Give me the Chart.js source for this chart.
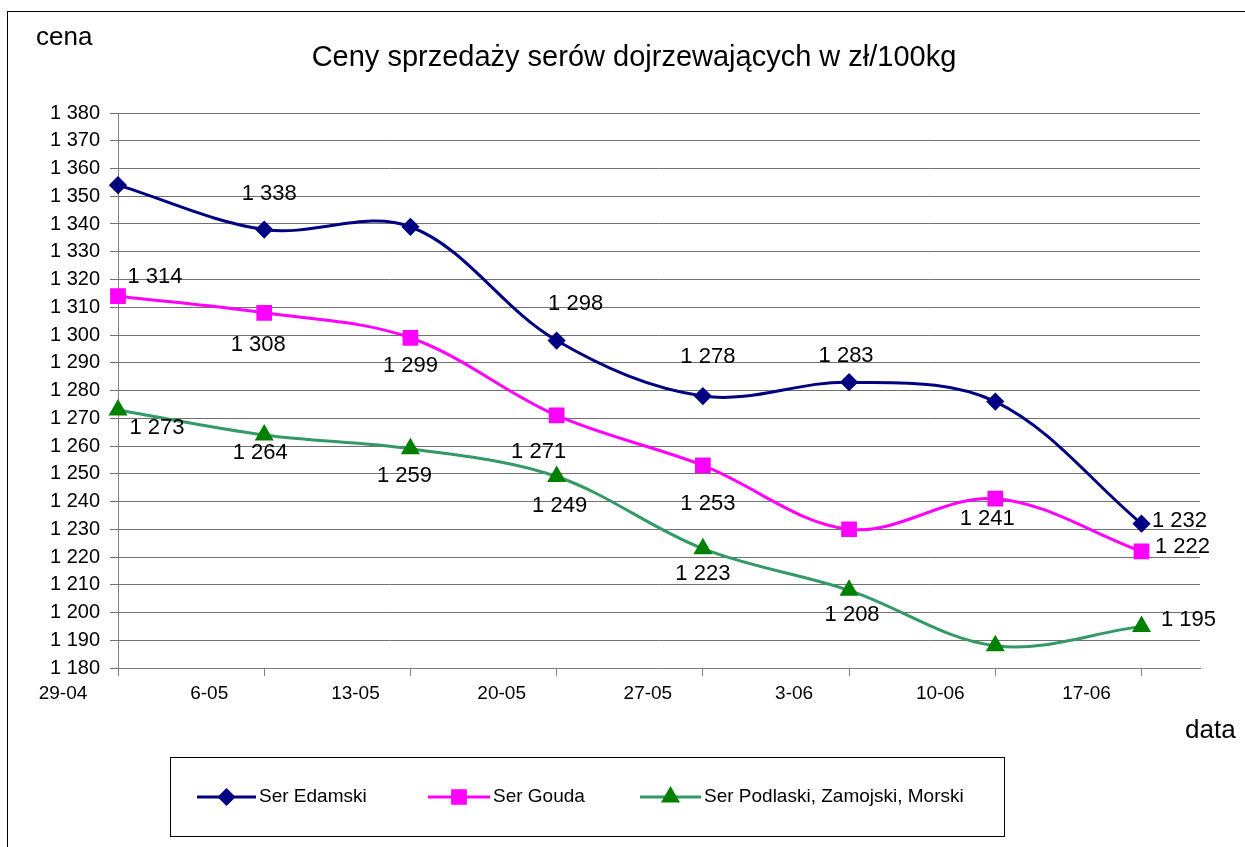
<!DOCTYPE html>
<html>
<head>
<meta charset="utf-8">
<script src="https://cdn.jsdelivr.net/npm/chart.js@4/dist/chart.umd.min.js"></script>
<style>
  html, body { margin: 0; padding: 0; background: #fff; overflow: hidden; }
  #frame { position: absolute; left: 7px; top: 11px; width: 1300px; height: 900px; border: 1px solid #000; }
  #wrap { position: absolute; left: 0; top: 0; width: 1245px; height: 847px; }
</style>
</head>
<body>
<div id="frame"></div>
<div id="wrap"><canvas id="chart" width="1245" height="847"></canvas></div>
<script>
// data
var dates = ["29-04", "6-05", "13-05", "20-05", "27-05", "3-06", "10-06", "17-06"];
var edamski = [1354, 1338, 1339, 1298, 1278, 1283, 1276, 1232];
var gouda = [1314, 1308, 1299, 1271, 1253, 1230, 1241, 1222];
var podlaski = [1273, 1264, 1259, 1249, 1223, 1208, 1188, 1195];
var seriesNames = ["Ser Edamski", "Ser Gouda", "Ser Podlaski, Zamojski, Morski"];
var yMin = 1180, yMax = 1380, yStep = 10;

var title = "Ceny sprzedaży serów dojrzewających w zł/100kg";
var yTitle = "cena";
var xTitle = "data";

var FONT = "'Liberation Sans', Arial, sans-serif";

function fmt(v) {
  return String(v).replace(/\B(?=(\d{3})+(?!\d))/g, " ");
}

// where each value label sits relative to its point (null = not shown)
var labelOffsets = [
  [null, [5, -36], null, [19, -37], [5, -39], [-3, -26], null, [38, -3]],
  [[37, -19], [-6, 32], [0, 28], [-18, 36], [5, 39], null, [-8, 20], [41, -5]],
  [[39, 18], [-4, 18], [-6, 27], [3, 29], [0, 25], [3, 25], null, [47, -6]]
];

function toPoints(arr) {
  return arr.map(function (v, i) { return { x: i, y: v }; });
}

var textPlugin = {
  id: "texts",
  afterDatasetsDraw: function (chart) {
    var ctx = chart.ctx;
    ctx.save();
    ctx.fillStyle = "#000";
    ctx.textBaseline = "middle";

    // value labels
    ctx.font = "22px " + FONT;
    ctx.textAlign = "center";
    chart.data.datasets.forEach(function (ds, di) {
      var meta = chart.getDatasetMeta(di);
      meta.data.forEach(function (pt, i) {
        var off = labelOffsets[di][i];
        if (!off) return;
        ctx.fillText(fmt(ds.data[i].y), pt.x + off[0], pt.y + off[1]);
      });
    });

    // titles
    ctx.font = "29px " + FONT;
    ctx.fillText(title, 634, 58);
    ctx.textAlign = "left";
    ctx.font = "26px " + FONT;
    ctx.fillText(yTitle, 36, 38);
    ctx.fillText(xTitle, 1185, 731);

    // legend
    ctx.strokeStyle = "#000";
    ctx.lineWidth = 1;
    ctx.strokeRect(170.5, 757.5, 834, 79);
    var items = [[197, 256], [428, 490], [640, 701]];
    var ly = 797;
    ctx.font = "19px " + FONT;
    chart.data.datasets.forEach(function (ds, di) {
      var x1 = items[di][0], x2 = items[di][1];
      ctx.strokeStyle = ds.borderColor;
      ctx.lineWidth = ds.borderWidth;
      ctx.beginPath();
      ctx.moveTo(x1, ly);
      ctx.lineTo(x2, ly);
      ctx.stroke();
      ctx.fillStyle = ds.pointBackgroundColor;
      ctx.strokeStyle = ds.pointBorderColor;
      Chart.helpers.drawPoint(ctx, {
        pointStyle: ds.pointStyle, radius: ds.pointRadius, rotation: 0, borderWidth: 1
      }, (x1 + x2) / 2, ly);
      ctx.fillStyle = "#000";
      ctx.fillText(ds.label, x2 + 3, ly);
    });
    ctx.restore();
  }
};

var ctx = document.getElementById("chart");

new Chart(ctx, {
  type: "line",
  data: {
    datasets: [
      {
        label: seriesNames[0],
        data: toPoints(edamski),
        borderColor: "#000080",
        borderWidth: 3,
        pointStyle: "rectRot",
        pointRadius: 7,
        pointBackgroundColor: "#000080",
        pointBorderColor: "#000080"
      },
      {
        label: seriesNames[1],
        data: toPoints(gouda),
        borderColor: "#ff00ff",
        borderWidth: 3,
        pointStyle: "rect",
        pointRadius: 9,
        pointBackgroundColor: "#ff00ff",
        pointBorderColor: "#ff00ff"
      },
      {
        label: seriesNames[2],
        data: toPoints(podlaski),
        borderColor: "#339966",
        borderWidth: 3,
        pointStyle: "triangle",
        pointRadius: 8,
        pointBackgroundColor: "#008000",
        pointBorderColor: "#008000"
      }
    ]
  },
  options: {
    responsive: false,
    animation: false,
    tension: 0.35,
    clip: false,
    layout: { padding: { left: 0, top: 113, right: 45, bottom: 119 } },
    plugins: {
      legend: { display: false },
      title: { display: false },
      tooltip: { enabled: false }
    },
    elements: { line: { tension: 0.35 }, point: { borderWidth: 1 } },
    scales: {
      x: {
        type: "linear",
        min: 0,
        max: 7.4,
        afterBuildTicks: function (s) {
          s.ticks = dates.map(function (d, i) { return { value: i }; });
        },
        afterFit: function (s) { s.height = 60; },
        grid: { drawOnChartArea: false, drawTicks: true, tickLength: 8, color: "#808080" },
        border: { display: true, color: "#808080", width: 1 },
        ticks: {
          autoSkip: false,
          maxRotation: 0,
          labelOffset: -55,
          padding: 6,
          color: "#000",
          font: { family: FONT, size: 19 },
          callback: function (v) { return dates[v] !== undefined ? dates[v] : ""; }
        }
      },
      y: {
        min: yMin,
        max: yMax,
        afterFit: function (s) { s.width = 118; },
        grid: { color: "#707070", lineWidth: 1, tickLength: 8 },
        border: { display: true, color: "#808080", width: 1 },
        ticks: {
          stepSize: yStep,
          padding: 10,
          color: "#000",
          font: { family: FONT, size: 20 },
          callback: function (v) { return fmt(v); }
        }
      }
    }
  },
  plugins: [textPlugin]
});
</script>
</body>
</html>
